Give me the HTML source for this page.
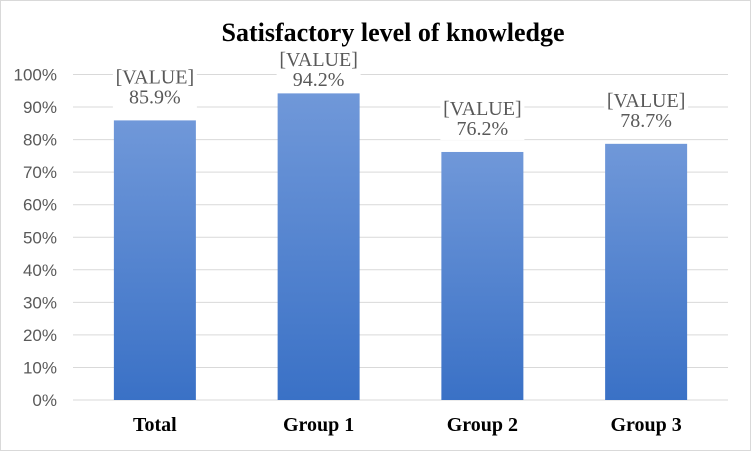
<!DOCTYPE html>
<html><head><meta charset="utf-8"><style>
html,body{margin:0;padding:0;background:#fff}
svg{display:block}
</style></head><body>
<svg id="chart" width="751" height="451" xmlns="http://www.w3.org/2000/svg">
<defs><linearGradient id="g" x1="0" y1="0" x2="0" y2="1"><stop offset="0" stop-color="#7098d9"/><stop offset="1" stop-color="#3a71c6"/></linearGradient></defs>
<rect x="0.5" y="0.5" width="750" height="450" fill="#fff" stroke="#d9d9d9"/>
<text x="393" y="41" text-anchor="middle" font-family="Liberation Serif, serif" font-weight="bold" font-size="26" fill="#000">Satisfactory level of knowledge</text>
<g id="grid"></g><g id="bars"></g>
</svg>
<script>
const categories=["Total","Group 1","Group 2","Group 3"];
const values=[85.9,94.2,76.2,78.7];
const ticks=[0,10,20,30,40,50,60,70,80,90,100];
const NS="http://www.w3.org/2000/svg";
const x0=73,x1=728,y0=400,y1=74.5;
const y=v=>y0-(v/100)*(y0-y1);
const step=(x1-x0)/categories.length;
const xc=i=>x0+step*(i+0.5);
const grid=document.getElementById('grid'),bars=document.getElementById('bars');
function mk(t,a,p){const e=document.createElementNS(NS,t);for(const k in a)e.setAttribute(k,a[k]);p.appendChild(e);return e;}
ticks.forEach(t=>{
 const l=mk('line',{x1:x0,x2:x1,y1:y(t),y2:y(t),stroke:'#d9d9d9','stroke-width':1},grid);
 
 
 const tx=mk('text',{x:57,y:y(t)+6,'text-anchor':'end','font-family':'Liberation Sans, sans-serif','font-size':17,fill:'#595959'},grid);
 tx.textContent=t+'%';
 
 
});
categories.forEach((c,i)=>{
 const w=82,top=y(values[i]);
 const r=mk('rect',{x:xc(i)-w/2,y:top,width:w,height:y0-top,fill:'url(#g)'},bars);
 
 
 const b1=Math.max(top-37,66);
 const bg=mk('rect',{x:xc(i)-42,y:b1-17,width:84,height:42,fill:'#fff'},bars);
 
 
 const a=mk('text',{x:xc(i),y:b1,'text-anchor':'middle','font-family':'Liberation Serif, serif','font-size':20,fill:'#595959'},bars);
 a.textContent='[VALUE]';
 
 
 const b=mk('text',{x:xc(i),y:b1+20,'text-anchor':'middle','font-family':'Liberation Serif, serif','font-size':20,fill:'#595959'},bars);
 b.textContent=values[i].toFixed(1)+'%';
 
 
 const xl=mk('text',{x:xc(i),y:431,'text-anchor':'middle','font-family':'Liberation Serif, serif','font-weight':'bold','font-size':20,fill:'#000'},bars);
 xl.textContent=c;
 
 
});
</script>
</body></html>
